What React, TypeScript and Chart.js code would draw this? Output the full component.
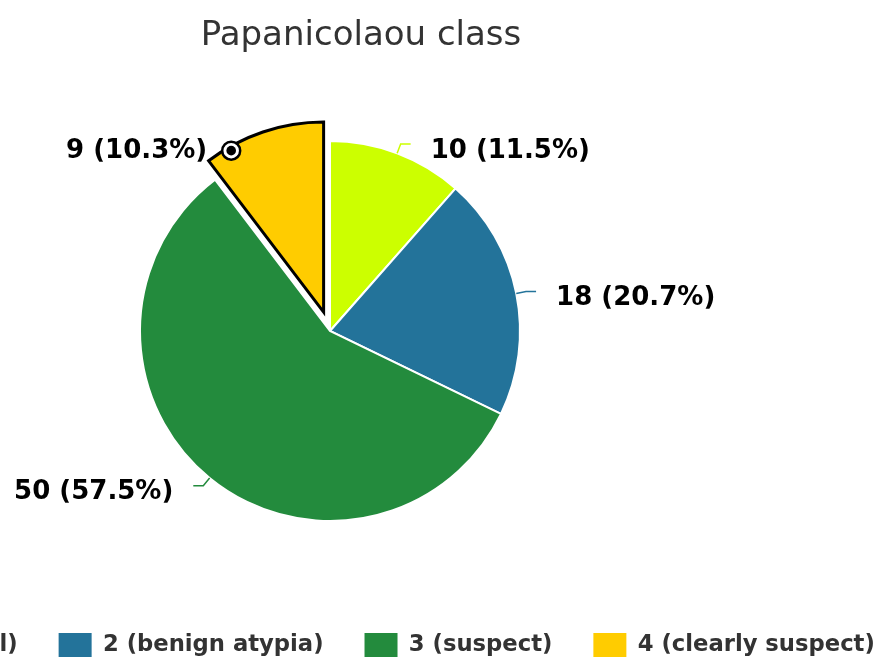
import React, { useEffect, useRef } from 'react';
import { Chart, registerables } from 'chart.js';

Chart.register(...registerables);

// ---- data ----
const categories = ['1 (normal)', '2 (benign atypia)', '3 (suspect)', '4 (clearly suspect)'];
const counts = [10, 18, 50, 9];
const colors = ['#CCFF00', '#23739A', '#238B3D', '#FFCC00'];
const TITLE = 'Papanicolaou class';
const SELECTED = 3; // exploded, highlighted slice

// ---- layout / style ----
const FONT = "'DejaVu Sans', 'Liberation Sans', sans-serif";
const CANVAS_W = 1200;
const CANVAS_H = 661;
const CANVAS_LEFT = -239;
const PIE_R = 190;
const PIE_DX = -31;
const PIE_CY = 331;
const EXPLODE = 20;
const LEGEND_DX = -4;

const layoutPlugin = {
  id: 'pieLayout',
  afterLayout(chart: any) {
    const cx = chart.width / 2 + PIE_DX;
    const half = PIE_R + 12;
    const a = chart.chartArea;
    a.left = cx - half;
    a.right = cx + half;
    a.top = PIE_CY - half;
    a.bottom = PIE_CY + half;
    a.width = 2 * half;
    a.height = 2 * half;
    if (chart.legend) {
      chart.legend.left += LEGEND_DX;
      chart.legend.right += LEGEND_DX;
    }
  },
  afterDatasetUpdate(chart: any, args: any) {
    const el = args.meta.data[SELECTED];
    if (!el) return;
    const mid = (el.startAngle + el.endAngle) / 2;
    el.x += EXPLODE * Math.cos(mid);
    el.y += EXPLODE * Math.sin(mid);
  },
};

const labelPlugin = {
  id: 'pieLabels',
  afterDatasetsDraw(chart: any) {
    const ctx = chart.ctx as CanvasRenderingContext2D;
    const meta = chart.getDatasetMeta(0);
    const total = counts.reduce((s, v) => s + v, 0);
    ctx.save();
    ctx.font = `bold 26px ${FONT}`;
    ctx.textBaseline = 'middle';
    ctx.fillStyle = '#000';
    meta.data.forEach((el: any, i: number) => {
      const { x, y, startAngle, endAngle, outerRadius } = el;
      const value = counts[i];
      const text = `${value} (${((value / total) * 100).toFixed(1)}%)`;
      if (i === SELECTED) {
        const ang = startAngle + (endAngle - startAngle) * 0.2;
        const mx = x + (outerRadius - 4) * Math.cos(ang);
        const my = y + (outerRadius - 4) * Math.sin(ang);
        ctx.beginPath();
        ctx.arc(mx, my, 9, 0, Math.PI * 2);
        ctx.fillStyle = '#fff';
        ctx.fill();
        ctx.lineWidth = 2.5;
        ctx.strokeStyle = '#000';
        ctx.stroke();
        ctx.beginPath();
        ctx.arc(mx, my, 4.8, 0, Math.PI * 2);
        ctx.fillStyle = '#000';
        ctx.fill();
        ctx.textAlign = 'right';
        ctx.fillText(text, mx - 24, my + 1);
        return;
      }
      const mid = (startAngle + endAngle) / 2;
      const c = Math.cos(mid);
      const s = Math.sin(mid);
      const ax = x + outerRadius * c;
      const ay = y + outerRadius * s;
      const ex = x + (outerRadius + 10) * c;
      const ey = y + (outerRadius + 10) * s;
      const right = c >= 0;
      const hx = ex + (right ? 10 : -10);
      ctx.beginPath();
      ctx.moveTo(ax, ay);
      ctx.lineTo(ex, ey);
      ctx.lineTo(hx, ey);
      ctx.strokeStyle = colors[i];
      ctx.lineWidth = 1.5;
      ctx.stroke();
      ctx.fillStyle = '#000';
      ctx.textAlign = right ? 'left' : 'right';
      ctx.fillText(text, hx + (right ? 20 : -20), ey + 7);
    });
    ctx.restore();
  },
};

export default function App() {
  const canvasRef = useRef<HTMLCanvasElement | null>(null);

  useEffect(() => {
    if (!canvasRef.current) return;
    const baseGen = (Chart as any).overrides.doughnut.plugins.legend.labels.generateLabels;
    const chart = new Chart(canvasRef.current, {
      type: 'pie',
      data: {
        labels: categories,
        datasets: [
          {
            data: counts,
            backgroundColor: colors,
            borderColor: ['#fff', '#fff', '#fff', '#000'],
            borderWidth: [2, 2, 2, 3],
            borderJoinStyle: 'miter',
            clip: false,
          } as any,
        ],
      },
      options: {
        responsive: false,
        animation: false,
        events: [],
        radius: PIE_R,
        layout: { padding: { top: 0, bottom: -6, left: 0, right: 0 } },
        plugins: {
          title: {
            display: true,
            text: TITLE,
            color: '#333',
            font: { family: FONT, size: 34, weight: 'normal' },
            padding: { top: 16, bottom: 10 },
          },
          legend: {
            display: true,
            position: 'bottom',
            labels: {
              boxWidth: 33,
              boxHeight: 24,
              padding: 41,
              color: '#333',
              font: { family: FONT, size: 22.7, weight: 'bold' },
              generateLabels: (ch: any) =>
                baseGen(ch).map((l: any) => ({ ...l, lineWidth: 0, strokeStyle: 'rgba(0,0,0,0)' })),
            },
          },
          tooltip: { enabled: false },
        },
      } as any,
      plugins: [layoutPlugin, labelPlugin],
    });
    return () => chart.destroy();
  }, []);

  return (
    <div
      style={{
        position: 'fixed',
        left: 0,
        top: 0,
        width: '100vw',
        height: '100vh',
        overflow: 'hidden',
        background: '#fff',
      }}
    >
      <div style={{ position: 'absolute', left: CANVAS_LEFT, top: 0, width: CANVAS_W, height: CANVAS_H }}>
        <canvas
          ref={canvasRef}
          width={CANVAS_W}
          height={CANVAS_H}
          style={{ width: CANVAS_W, height: CANVAS_H, display: 'block' }}
        />
      </div>
    </div>
  );
}
